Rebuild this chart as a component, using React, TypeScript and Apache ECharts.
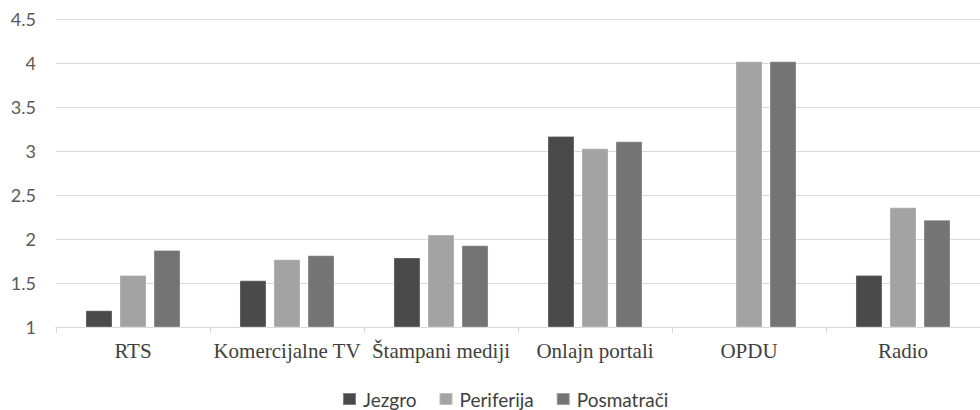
import React, { useEffect, useRef } from "react";
import * as echarts from "echarts";

const categories = ["RTS", "Komercijalne TV", "Štampani mediji", "Onlajn portali", "OPDU", "Radio"];
const seriesNames = ["Jezgro", "Periferija", "Posmatrači"];
const jezgro: (number | null)[] = [1.19, 1.53, 1.79, 3.17, null, 1.59];
const periferija: number[] = [1.59, 1.77, 2.05, 3.03, 4.02, 2.36];
const posmatraci: number[] = [1.875, 1.815, 1.93, 3.11, 4.02, 2.22];
const colors = ["#4a4a4a", "#a3a3a3", "#747474"];

export default function App() {
  const ref = useRef<HTMLDivElement>(null);
  useEffect(() => {
    if (!ref.current) return;
    const chart = echarts.init(ref.current, null, { renderer: "svg" });
    const data = [jezgro, periferija, posmatraci];
    chart.setOption({
      animation: false,
      backgroundColor: "#ffffff",
      grid: { left: 56, top: 19, width: 931, height: 308, containLabel: false },
      legend: {
        data: seriesNames,
        top: 389,
        left: 342,
        padding: 0,
        itemWidth: 13,
        itemHeight: 12,
        itemGap: 22,
        icon: "rect",
        textStyle: { fontFamily: "Lato", fontSize: 19, lineHeight: 20, color: "#404040", padding: [0, 0, 0, 2] },
      },
      xAxis: {
        type: "category",
        data: categories,
        boundaryGap: true,
        axisLine: { show: true, lineStyle: { color: "#d9d9d9", width: 1 } },
        axisTick: { show: true, length: 6, lineStyle: { color: "#d9d9d9" } },
        axisLabel: { fontFamily: "Liberation Serif", fontSize: 21, color: "#404040", margin: 13, interval: 0 },
      },
      yAxis: {
        type: "value",
        min: 1,
        max: 4.5,
        interval: 0.5,
        axisLine: { show: false },
        axisTick: { show: false },
        splitLine: { lineStyle: { color: "#d9d9d9", width: 1 } },
        axisLabel: { fontFamily: "Lato", fontSize: 18, color: "#595959", margin: 20 },
      },
      series: seriesNames.map((name, i) => ({
        name,
        type: "bar",
        data: data[i],
        barWidth: 27,
        barGap: "26%",
        itemStyle: { color: colors[i], borderColor: "rgba(255,255,255,0.3)", borderWidth: 1 },
      })),
    });
    return () => chart.dispose();
  }, []);
  return <div ref={ref} style={{ position: "fixed", left: 0, top: 0, width: 980, height: 410 }} />;
}
